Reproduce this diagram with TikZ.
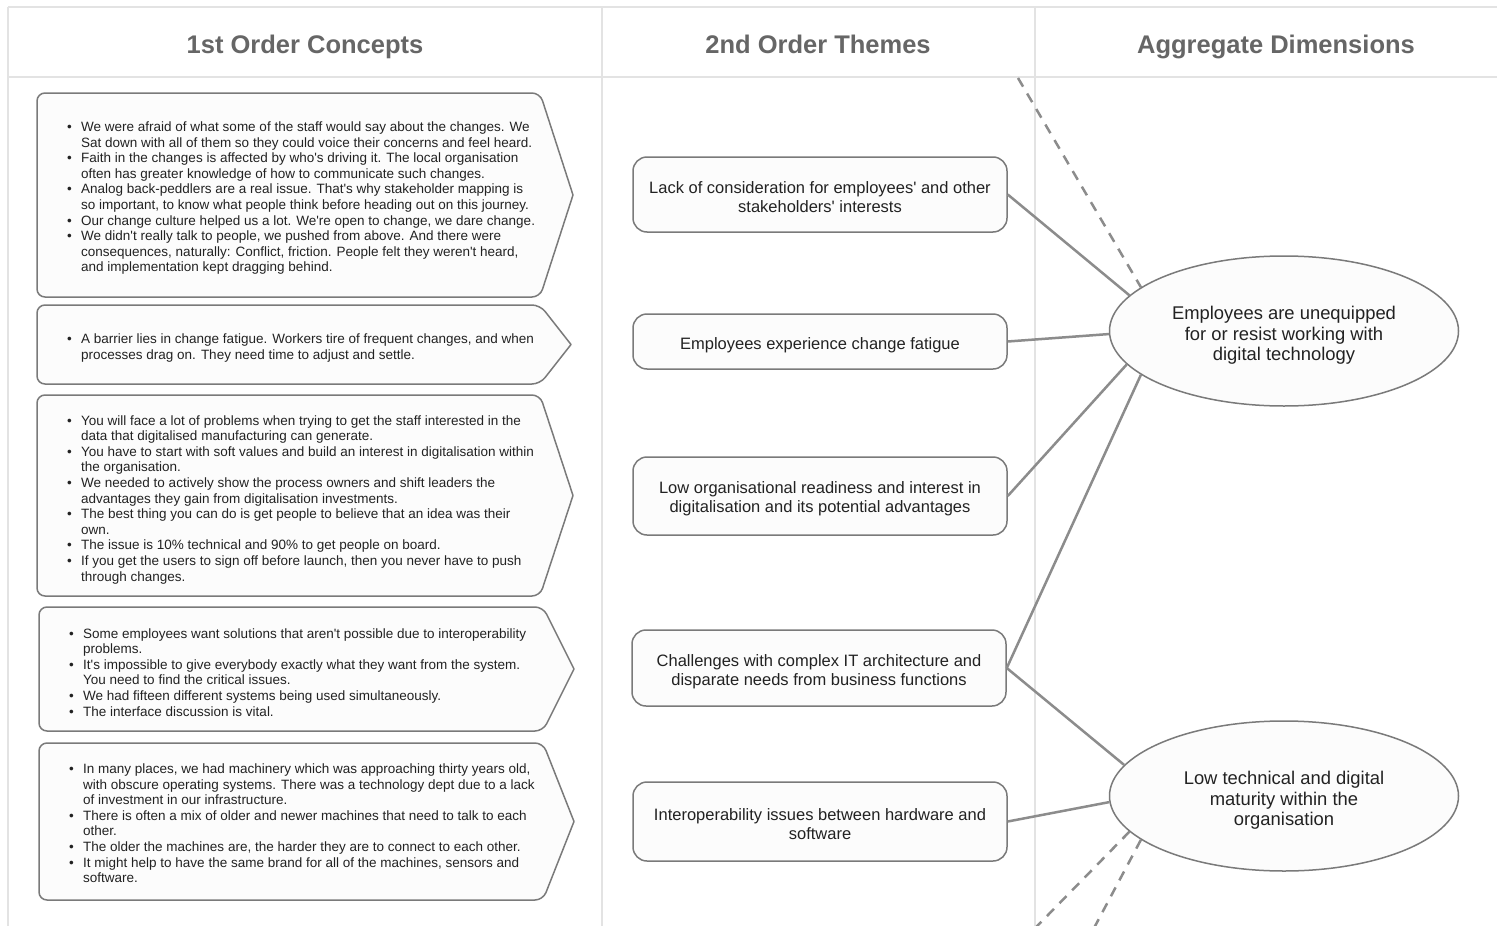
\documentclass[tikz,border=0pt]{standalone}
\usepackage{fontspec}
\setmainfont{Liberation Sans}[Ligatures=TeXOff]
\usetikzlibrary{shapes.geometric}
\definecolor{gridc}{HTML}{E3E3E3}
\definecolor{boxline}{HTML}{7A7A7A}
\definecolor{boxfill}{HTML}{FCFCFC}
\definecolor{connc}{HTML}{8C8C8C}
\definecolor{hdrc}{HTML}{666666}
\definecolor{txtc}{HTML}{222222}
\newcommand\bl{\makebox[14pt][l]{\textbullet}}
% x1, ytop, ybottom, xcorner, xtip
\newcommand\pentshape[5]{%
  \draw[pentbox] (#1,{(#2+#3)/2}) [rounded corners=8pt] -- (#1,#2) -- (#4,#2)
    [sharp corners] -- (#5,{(#2+#3)/2}) [rounded corners=8pt] -- (#4,#3) -- (#1,#3) -- cycle;}
\tikzset{
  gridline/.style={draw=gridc, line width=2pt},
  pentbox/.style={draw=boxline, fill=boxfill, line width=1.5pt, line join=round},
  blist/.style={inner sep=0pt, text=txtc, font=\fontsize{13.5}{15.6}\selectfont},
  theme/.style={draw=boxline, fill=boxfill, line width=1.5pt, rounded corners=14pt,
    minimum width=374pt, inner sep=0pt},
  themetext/.style={inner sep=0pt, align=center, text=txtc,
    font=\fontsize{16.5}{19}\selectfont},
  dim/.style={ellipse, draw=boxline, fill=boxfill, line width=1.5pt,
    minimum width=349pt, minimum height=150pt, inner sep=0pt},
  dimtext/.style={inner sep=0pt, align=center, text=txtc,
    font=\fontsize{18.4}{20.7}\selectfont},
  hdr/.style={anchor=base, inner sep=0pt, text=hdrc, font=\fontsize{25.5}{30}\selectfont\bfseries},
  conn/.style={draw=connc, line width=2.5pt},
  dconn/.style={conn, dash pattern=on 10pt off 8pt}
}
\begin{document}
\begin{tikzpicture}[x=1pt, y=-1pt]
\clip (0,0) rectangle (1497,926);
\fill[white] (0,0) rectangle (1497,926);
% frame
\draw[gridline] (8,7) -- (1497,7);
\draw[gridline] (8,77) -- (1497,77);
\draw[gridline] (8,7) -- (8,926);
\draw[gridline] (602,7) -- (602,926);
\draw[gridline] (1035,7) -- (1035,926);
% headers
\node[hdr] (h1) at (305,53) {1st Order Concepts};
\node[hdr] (h2) at (818,53) {2nd Order Themes};
\node[hdr] (h3) at (1276,53) {Aggregate Dimensions};
% 1st order concept boxes
\pentshape{37}{93}{297}{540}{573}
\pentshape{37}{305}{384}{540}{571}
\pentshape{37}{395}{596}{540}{573}
\pentshape{39}{607}{731}{543}{574}
\pentshape{39}{743}{900}{543}{574}
\node[blist, anchor=west] (c1) at (67,198.5) {\begin{tabular}{@{}l@{}l@{}}
\bl & We were afraid of what some of the staff would say about the changes. We\\
 & Sat down with all of them so they could voice their concerns and feel heard.\\
\bl & Faith in the changes is affected by who's driving it. The local organisation\\
 & often has greater knowledge of how to communicate such changes.\\
\bl & Analog back-peddlers are a real issue. That's why stakeholder mapping is\\
 & so important, to know what people think before heading out on this journey.\\
\bl & Our change culture helped us a lot. We're open to change, we dare change.\\
\bl & We didn't really talk to people, we pushed from above. And there were\\
 & consequences, naturally: Conflict, friction. People felt they weren't heard,\\
 & and implementation kept dragging behind.
\end{tabular}};
\node[blist, anchor=west] (c2) at (67,348.5) {\begin{tabular}{@{}l@{}l@{}}
\bl & A barrier lies in change fatigue. Workers tire of frequent changes, and when\\
 & processes drag on. They need time to adjust and settle.
\end{tabular}};
\node[blist, anchor=west] (c3) at (67,500) {\begin{tabular}{@{}l@{}l@{}}
\bl & You will face a lot of problems when trying to get the staff interested in the\\
 & data that digitalised manufacturing can generate.\\
\bl & You have to start with soft values and build an interest in digitalisation within\\
 & the organisation.\\
\bl & We needed to actively show the process owners and shift leaders the\\
 & advantages they gain from digitalisation investments.\\
\bl & The best thing you can do is get people to believe that an idea was their\\
 & own.\\
\bl & The issue is 10\% technical and 90\% to get people on board.\\
\bl & If you get the users to sign off before launch, then you never have to push\\
 & through changes.
\end{tabular}};
\node[blist, anchor=west] (c4) at (69,674) {\begin{tabular}{@{}l@{}l@{}}
\bl & Some employees want solutions that aren't possible due to interoperability\\
 & problems.\\
\bl & It's impossible to give everybody exactly what they want from the system.\\
 & You need to find the critical issues.\\
\bl & We had fifteen different systems being used simultaneously.\\
\bl & The interface discussion is vital.
\end{tabular}};
\node[blist, anchor=west] (c5) at (69,825) {\begin{tabular}{@{}l@{}l@{}}
\bl & In many places, we had machinery which was approaching thirty years old,\\
 & with obscure operating systems. There was a technology dept due to a lack\\
 & of investment in our infrastructure.\\
\bl & There is often a mix of older and newer machines that need to talk to each\\
 & other.\\
\bl & The older the machines are, the harder they are to connect to each other.\\
\bl & It might help to have the same brand for all of the machines, sensors and\\
 & software.
\end{tabular}};
% 2nd order themes
\node[theme, minimum height=75pt] (t1) at (820,194.5) {};
\node[theme, minimum height=55pt] (t2) at (820,341.5) {};
\node[theme, minimum height=78pt] (t3) at (820,496) {};
\node[theme, minimum height=76pt] (t4) at (819,668) {};
\node[theme, minimum height=79pt] (t5) at (820,821.5) {};
\node[themetext] (t1l) at (820,197.5) {Lack of consideration for employees' and other\\stakeholders' interests};
\node[themetext] (t2l) at (820,345.5) {Employees experience change fatigue};
\node[themetext] (t3l) at (820,499) {Low organisational readiness and interest in\\digitalisation and its potential advantages};
\node[themetext] (t4l) at (819,672) {Challenges with complex IT architecture and\\disparate needs from business functions};
\node[themetext] (t5l) at (820,824.5) {Interoperability issues between hardware and\\software};
% aggregate dimensions
\node[dim] (e1) at (1284,331) {};
\node[dim] (e2) at (1284,796) {};
\node[dimtext] (e1l) at (1284,335.5) {Employees are unequipped\\for or resist working with\\digital technology};
\node[dimtext] (e2l) at (1284,800.5) {Low technical and digital\\maturity within the\\organisation};
% connectors
\draw[conn] (t1.east) -- (e1.167.5);
\draw[conn] (t2.east) -- (e1.181);
\draw[conn] (t3.east) -- (e1.192.8);
\draw[conn] (t4.east) -- (e1.197.3);
\draw[conn] (t4.east) -- (e2.169.4);
\draw[conn] (t5.east) -- (e2.182.6);
% dashed connectors leaving the view
\coordinate (d1) at (1018,78);
\coordinate (d2) at (1004,960);
\coordinate (d3) at (1077,960);
\draw[dconn] (d1) -- (e1.163.4);
\draw[dconn] (e2.193) -- (d2);
\draw[dconn] (e2.197.7) -- (d3);
\end{tikzpicture}
\end{document}
